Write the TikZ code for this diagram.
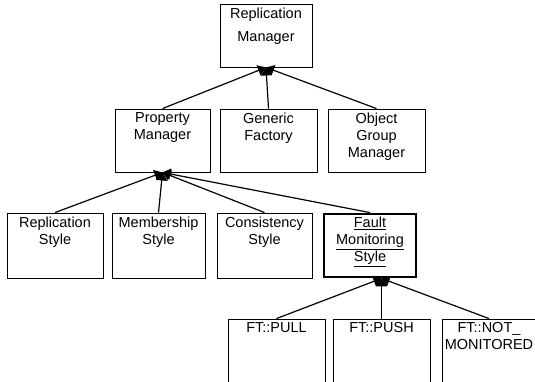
\documentclass[tikz,border=0pt]{standalone}
\usepackage{fontspec}
\setmainfont{Liberation Sans}
\usetikzlibrary{arrows.meta}

\tikzset{
  cls/.style={draw, line width=0.9pt, minimum width=95pt, minimum height=63pt, inner sep=0pt},
  title/.style={label={[anchor=north, align=center, inner sep=4pt,
      font=\fontsize{14.5}{17}\selectfont]north:{#1}}},
  inh/.style={-{Triangle[length=8pt,width=11pt]}, line width=1.2pt},
}

\begin{document}
\begin{tikzpicture}[x=1pt,y=-1pt]
  \useasboundingbox (0,0) rectangle (535,381);
  \clip (0,0) rectangle (535,381);
  \path
  (266,35.5) node(rm) [cls, minimum width=92pt, title={Replication\\[6pt]Manager}] {}
  (162.5,140.5) node(pm) [cls, title={Property\\Manager}] {}
  (268.5,140.5) node(gf) [cls, minimum width=97pt, title={Generic\\Factory}] {}
  (376.5,140.5) node(ogm) [cls, minimum width=97pt, title={Object\\Group\\Manager}] {}
  (55,245.5) node(rs) [cls, minimum width=96pt, minimum height=65pt, title={Replication\\Style}] {}
  (158.5,245.5) node(ms) [cls, minimum width=93pt, minimum height=65pt, title={Membership\\Style}] {}
  (264.5,245.5) node(cs) [cls, minimum height=65pt, title={Consistency\\Style}] {}
  (370,245.5) node(fm) [cls, minimum width=92pt, minimum height=63pt, line width=2.8pt,
      title={\underline{Fault}\\\underline{Monitoring}\\\underline{Style}}] {}
  (276.5,365) node(pull) [cls, minimum width=97pt, minimum height=92pt, title={FT::PULL}] {}
  (381.5,365) node(push) [cls, minimum width=97pt, minimum height=92pt, title={FT::PUSH}] {}
  (489,365) node(notmon) [cls, minimum width=94pt, minimum height=92pt, title={FT::NOT\_\\MONITORED}] {}
  ;

  % all children meet at one point under the parent
  \coordinate (fmbase) at (push.north |- fm.south);

  \draw[inh] (pm.north) -- (rm.south);
  \draw[inh] (gf.north) -- (rm.south);
  \draw[inh] (ogm.north) -- (rm.south);

  \draw[inh] (rs.north) -- (pm.south);
  \draw[inh] (ms.north) -- (pm.south);
  \draw[inh] (cs.north) -- (pm.south);
  \draw[inh] (fm.north) -- (pm.south);

  \draw[inh] (pull.north) -- (fmbase);
  \draw[inh] (push.north) -- (fmbase);
  \draw[inh] (notmon.north) -- (fmbase);
\end{tikzpicture}
\end{document}
